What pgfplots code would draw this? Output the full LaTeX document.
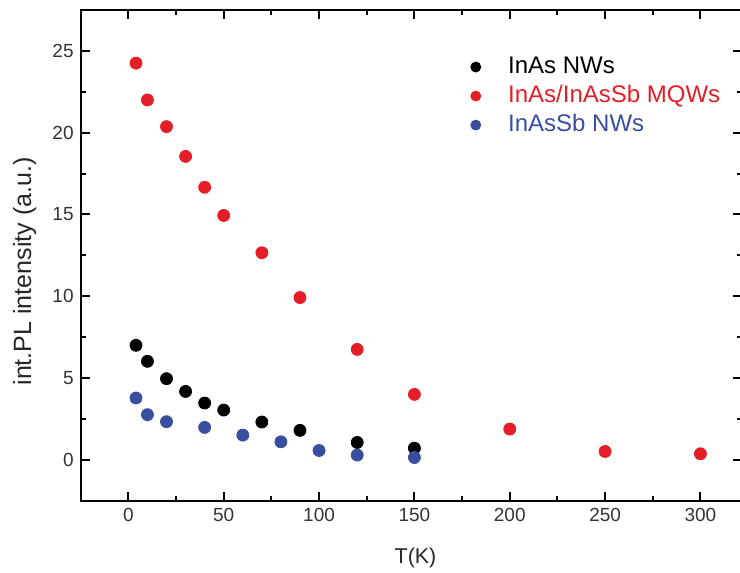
\documentclass[border=0pt]{standalone}
\usepackage{fontspec}
\setmainfont{Liberation Sans}
\usepackage{pgfplots}
\pgfplotsset{compat=1.18}
\definecolor{mqwred}{RGB}{228,30,38}
\definecolor{sbblue}{RGB}{58,78,160}
\begin{document}
\begin{tikzpicture}
\begin{axis}[
    scale only axis,
    width=330.85pt, height=245.35pt,
    xmin=-25, xmax=322,
    ymin=-2.5, ymax=27.5,
    xtick={0,50,...,300},
    ytick={0,5,...,25},
    minor tick num=1,
    tick align=inside,
    major tick length=4.5pt,
    minor tick length=2.5pt,
    axis line style={line width=1.1pt},
    every tick/.style={line width=1pt, black},
    tick label style={font=\fontsize{9.5}{11}\selectfont, text=black!80},
    /pgf/number format/assume math mode=true,
    xlabel={T(K)},
    ylabel={int.PL intensity (a.u.)},
    xlabel style={font=\fontsize{10.7}{12}\selectfont, text=black!85,
        at={(axis description cs:0.506,-0.116)}, anchor=center},
    ylabel style={font=\fontsize{12.5}{14}\selectfont, text=black!85,
        at={(axis description cs:-0.0845,0.467)}, anchor=center},
    legend style={draw=none, fill=none, inner sep=0pt,
        at={(axis description cs:0.5717,0.910)}, anchor=north west,
        font=\fontsize{12}{14}\selectfont,
        nodes={inner sep=0.5pt, text height=9pt, text depth=2.5pt},
        row sep=2pt},
    legend cell align=left,
    legend image code/.code={
        \path (0pt,0pt) (23.5pt,0pt);
        \draw[#1, mark size=2.5pt] plot coordinates {(8pt,0pt)};
    },
]

% InAs NWs
\addplot[only marks, mark=*, mark size=3pt, black] coordinates {
  (4,7.00) (10,6.02) (20,4.96) (30,4.18) (40,3.47) (50,3.04)
  (70,2.31) (90,1.80) (120,1.06) (150,0.71)
};
\addlegendentry{InAs NWs}

% InAs/InAsSb MQWs
\addplot[only marks, mark=*, mark size=3pt, mqwred] coordinates {
  (4,24.25) (10,22.0) (20,20.37) (30,18.55) (40,16.66) (50,14.94)
  (70,12.66) (90,9.92) (120,6.75) (150,4.0) (200,1.88) (250,0.51) (300,0.37)
};
\addlegendentry{\textcolor{mqwred}{InAs/InAsSb MQWs}}

% InAsSb NWs
\addplot[only marks, mark=*, mark size=3pt, sbblue] coordinates {
  (4,3.78) (10,2.76) (20,2.33) (40,1.98) (60,1.51) (80,1.10)
  (100,0.57) (120,0.29) (150,0.14)
};
\addlegendentry{\textcolor{sbblue}{InAsSb NWs}}

\end{axis}
\pgfresetboundingbox
\path[use as bounding box] (-40.35pt,-36.15pt) rectangle (329.65pt,250.35pt);
\end{tikzpicture}
\end{document}
